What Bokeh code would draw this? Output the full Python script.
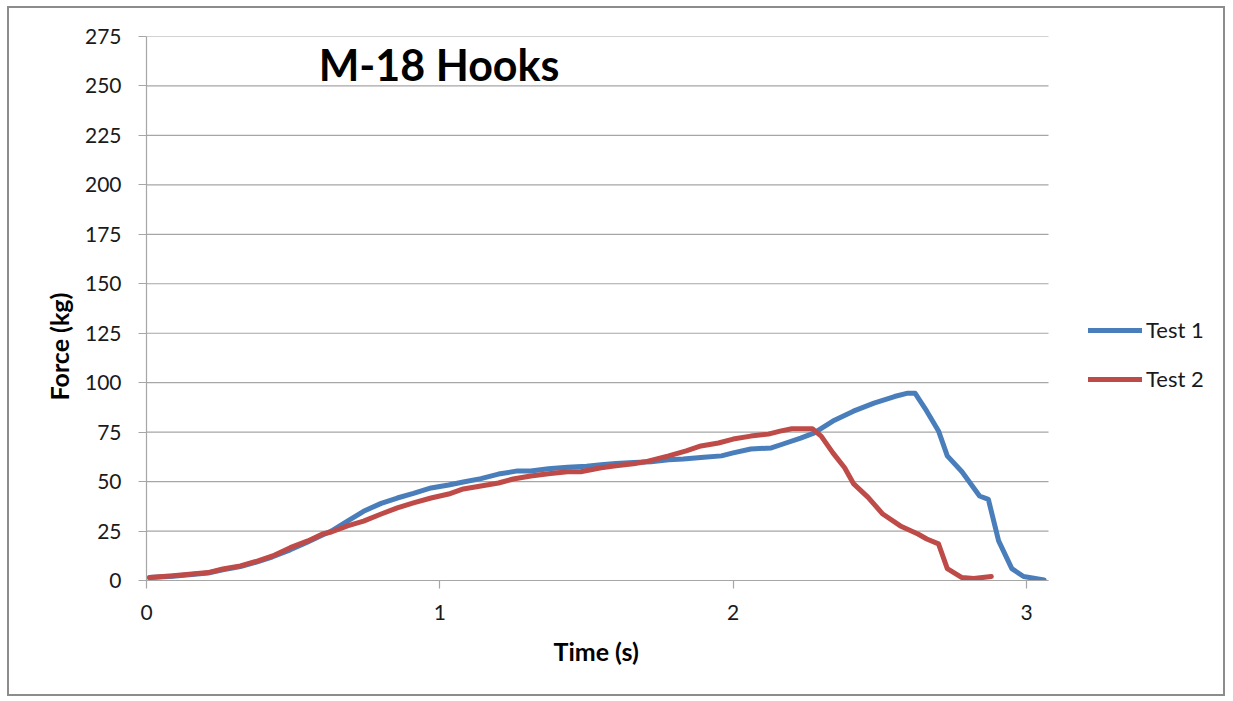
from bokeh.plotting import figure
from bokeh.models import Legend, LegendItem, Label, FixedTicker, Range1d, Title
from bokeh.embed import file_html
from bokeh.resources import INLINE

# Data
test1_time = [0.01, 0.09, 0.21, 0.26, 0.32, 0.38, 0.43, 0.49, 0.55, 0.60, 0.63, 0.685, 0.74, 0.80,
              0.855, 0.91, 0.97, 1.03, 1.08, 1.14, 1.20, 1.265, 1.31, 1.37, 1.435, 1.50, 1.55, 1.60,
              1.66, 1.72, 1.78, 1.83, 1.90, 1.96, 2.00, 2.06, 2.13, 2.17, 2.23, 2.275, 2.34, 2.41,
              2.48, 2.55, 2.595, 2.62, 2.66, 2.70, 2.73, 2.78, 2.84, 2.87, 2.905, 2.95, 2.99, 3.06]
test1_force = [1.5, 2.2, 3.8, 5.4, 7.0, 9.5, 12.0, 15.5, 19.5, 23, 25, 30, 35, 39,
               41.7, 44, 46.8, 48.3, 49.8, 51.5, 53.8, 55.4, 55.4, 56.5, 57.3, 57.8, 58.5, 59.2,
               59.6, 60, 61, 61.4, 62.3, 63, 64.5, 66.5, 67, 69, 72, 74.5, 80.6, 85.6,
               89.7, 93, 94.7, 94.7, 85.6, 75.6, 63, 55, 42.7, 41, 20, 6, 2, 0.3]

test2_time = [0.01, 0.09, 0.21, 0.26, 0.32, 0.38, 0.43, 0.49, 0.55, 0.60, 0.63, 0.685, 0.74, 0.80,
              0.855, 0.91, 0.97, 1.03, 1.08, 1.14, 1.20, 1.25, 1.31, 1.37, 1.435, 1.48, 1.55, 1.60,
              1.66, 1.70, 1.78, 1.84, 1.89, 1.95, 2.00, 2.06, 2.12, 2.16, 2.20, 2.27, 2.30, 2.34,
              2.38, 2.41, 2.46, 2.51, 2.57, 2.63, 2.66, 2.70, 2.73, 2.78, 2.82, 2.88]
test2_force = [1.5, 2.4, 4.0, 5.8, 7.4, 9.9, 12.4, 16.6, 20, 23.5, 24.5, 27.6, 30, 33.6,
               36.7, 39.2, 41.7, 43.7, 46.3, 47.8, 49.3, 51.3, 52.8, 54, 55, 55, 57, 58,
               59, 60, 63, 65.5, 68, 69.5, 71.5, 73, 74, 75.5, 76.7, 76.7, 73, 64.5,
               57, 49, 42, 33.6, 27.6, 23.5, 21, 18.5, 6, 1.5, 1, 2]

x_ticks = [0, 1, 2, 3]
y_ticks = [0, 25, 50, 75, 100, 125, 150, 175, 200, 225, 250, 275]
series_names = ["Test 1", "Test 2"]
title_text = "M-18 Hooks"
x_label = "Time (s)"
y_label = "Force (kg)"

X_AXIS_MAX = 3.075      # end of the plotted time axis
Y_AXIS_MAX = 275

FONT = "Lato"
GRID = "#a6a6a6"
TEXT = "#1a1a1a"

W, H = 1218, 690
LEFT, RIGHT, TOP, BOTTOM = 137, 5, 28, 118
PLOT_AREA_W = 902       # width in px of the gridded plot area
frame_w = W - LEFT - RIGHT
x_view_end = X_AXIS_MAX * frame_w / PLOT_AREA_W   # frame extends right to hold the legend

p = figure(width=W, height=H, output_backend="svg", toolbar_location=None,
           x_range=Range1d(0, x_view_end), y_range=Range1d(0, Y_AXIS_MAX),
           min_border_left=LEFT, min_border_right=RIGHT, min_border_top=TOP, min_border_bottom=BOTTOM,
           styles={"border": "2px solid #8c8c8c", "margin": "6px 0px 0px 7px"})
p.outline_line_color = None
p.background_fill_color = "white"
p.border_fill_color = "white"

# horizontal gridlines limited to the plot area
p.segment(x0=0, x1=X_AXIS_MAX, y0=y_ticks, y1=y_ticks, line_color=GRID, line_width=1.2)

r1 = p.line(test1_time, test1_force, line_color="#4a7ebb", line_width=5, line_join="round", line_cap="round")
r2 = p.line(test2_time, test2_force, line_color="#be4b48", line_width=5, line_join="round", line_cap="round")

# axes
p.xaxis.ticker = FixedTicker(ticks=x_ticks)
p.yaxis.ticker = FixedTicker(ticks=y_ticks)
p.xaxis.bounds = (0, X_AXIS_MAX)
for ax in (p.xaxis[0], p.yaxis[0]):
    ax.axis_line_color = GRID
    ax.axis_line_width = 1.2
    ax.major_tick_line_color = GRID
    ax.major_tick_line_width = 1.2
    ax.major_tick_out = 8
    ax.major_tick_in = 0
    ax.minor_tick_line_color = None
    ax.major_label_text_font = FONT
    ax.major_label_text_font_size = "21px"
    ax.major_label_text_color = TEXT
p.yaxis.major_label_standoff = 17
p.xaxis.major_label_standoff = 16

p.xgrid.grid_line_color = None
p.ygrid.grid_line_color = None

# axis titles placed relative to the gridded plot area
p.add_layout(Title(text=x_label, align="left", offset=407, standoff=22, text_font=FONT,
                   text_font_size="25px", text_font_style="bold", text_color="black"), "below")
p.add_layout(Title(text=y_label, align="left", offset=180, standoff=16, text_font=FONT,
                   text_font_size="25px", text_font_style="bold", text_color="black"), "left")

# chart title inside plot area
p.add_layout(Label(x=0.587, y=261, text=title_text, text_font=FONT, text_font_size="43px",
                   text_font_style="bold", text_color="black", text_baseline="middle"))

legend = Legend(items=[LegendItem(label=series_names[0], renderers=[r1]),
                       LegendItem(label=series_names[1], renderers=[r2])],
                location=(942, 188), orientation="vertical",
                glyph_width=54, glyph_height=20, label_height=20, label_standoff=4,
                spacing=22, padding=0, margin=0,
                border_line_color=None, background_fill_alpha=0,
                label_text_font=FONT, label_text_font_size="22px", label_text_color=TEXT)
p.add_layout(legend, "center")

open("out.html", "w").write(file_html(p, INLINE))
